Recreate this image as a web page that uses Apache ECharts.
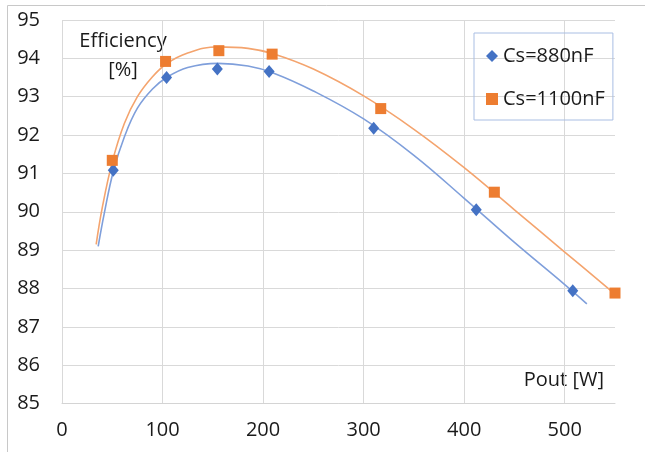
<!DOCTYPE html>
<html>
<head>
<meta charset="utf-8">
<script src="https://cdn.jsdelivr.net/npm/echarts@6/dist/echarts.min.js"></script>
<style>html,body{margin:0;padding:0;background:#fff}#c{width:645px;height:452px}</style>
</head>
<body>
<div id="c"></div>
<script>
// Measured points (Pout [W], Efficiency [%])
const cs880 = [[51, 91.08], [104, 93.5], [154.5, 93.72], [206, 93.66], [310, 92.18], [412, 90.05], [508, 87.94]];
const cs1100 = [[50, 91.34], [103, 93.92], [156, 94.2], [209, 94.11], [317, 92.69], [430, 90.51], [550, 87.88]];
// Trendlines
const trend880 = [[36, 89.1], [42, 89.95], [51, 91.05], [62, 91.95], [75, 92.7], [90, 93.2], [104, 93.5], [125, 93.76], [155, 93.87], [185, 93.8], [210, 93.62], [250, 93.15], [300, 92.42], [350, 91.47], [400, 90.35], [450, 89.2], [500, 88.1], [522, 87.6]];
const trend1100 = [[34, 89.15], [40, 90.1], [50, 91.3], [62, 92.3], [75, 93.0], [90, 93.52], [104, 93.86], [125, 94.14], [155, 94.3], [185, 94.26], [210, 94.12], [250, 93.72], [300, 93.02], [350, 92.15], [400, 91.15], [450, 90.05], [500, 88.95], [550, 87.85]];
const seriesNames = ['Cs=880nF', 'Cs=1100nF'];
const xTicks = {min: 0, max: 550, step: 100};
const yTicks = {min: 85, max: 95, step: 1};

const FONT = '"Open Sans", sans-serif';
const TXT = '#1a1a1a';
const chart = echarts.init(document.getElementById('c'), null, {renderer: 'canvas'});
chart.setOption({
  animation: false,
  backgroundColor: '#fff',
  textStyle: {fontFamily: FONT},
  grid: {left: 62, top: 20, right: 30, bottom: 48.5, containLabel: false},
  xAxis: {
    type: 'value', min: xTicks.min, max: xTicks.max, interval: xTicks.step,
    axisLine: {show: true, lineStyle: {color: '#D4D4D4', width: 1}},
    axisTick: {show: false},
    axisLabel: {color: TXT, fontSize: 20, fontFamily: FONT, margin: 17, showMaxLabel: false},
    splitLine: {show: true, lineStyle: {color: ['#D9D9D9','#D9D9D9','#D9D9D9','#D9D9D9','#D9D9D9','#D9D9D9','rgba(0,0,0,0)'], width: 1}}
  },
  yAxis: {
    type: 'value', min: yTicks.min, max: yTicks.max, interval: yTicks.step,
    axisLine: {show: false},
    axisTick: {show: false},
    axisLabel: {color: TXT, fontSize: 20, fontFamily: FONT, margin: 22},
    splitLine: {show: true, lineStyle: {color: '#D9D9D9', width: 1}}
  },
  legend: {
    data: seriesNames,
    orient: 'vertical',
    left: 474, top: 33,
    padding: [13, 8, 11, 12],
    itemGap: 23,
    itemWidth: 12, itemHeight: 12,
    borderColor: '#A9BEE3', borderWidth: 1,
    textStyle: {color: TXT, fontSize: 20, fontFamily: FONT, padding: [0, 0, 0, 0]}
  },
  graphic: [
    {type: 'rect', left: 5, top: 3, shape: {width: 660, height: 447}, style: {fill: 'none', stroke: '#C8C8C8', lineWidth: 1}, silent: true, z: -1},
    {type: 'text', x: 123, y: 56, style: {text: 'Efficiency\n[%]', fill: TXT, font: '20px ' + FONT, textAlign: 'center', textVerticalAlign: 'middle', lineHeight: 29}},
    {type: 'text', x: 604, y: 380, style: {text: 'Pout [W]', fill: TXT, font: '20px ' + FONT, textAlign: 'right', textVerticalAlign: 'middle'}}
  ],
  series: [
    {type: 'line', data: trend880, smooth: 0.4, showSymbol: false, symbol: 'none', lineStyle: {color: '#7F9FDB', width: 1.6}, z: 2, silent: true},
    {type: 'line', data: trend1100, smooth: 0.4, showSymbol: false, symbol: 'none', lineStyle: {color: '#F4A46E', width: 1.6}, z: 2, silent: true},
    {name: seriesNames[0], type: 'scatter', data: cs880, symbol: 'diamond', symbolSize: [11, 13], itemStyle: {color: '#4472C4', opacity: 1}, z: 3},
    {name: seriesNames[1], type: 'scatter', data: cs1100, symbol: 'rect', symbolSize: 11, itemStyle: {color: '#ED7D31', opacity: 1}, z: 3}
  ]
});
</script>
</body>
</html>
